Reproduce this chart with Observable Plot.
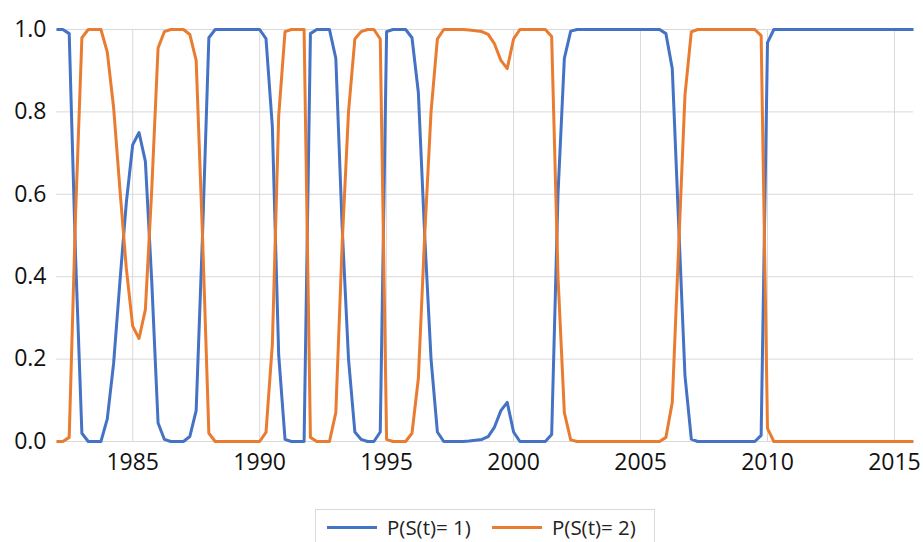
<!DOCTYPE html>
<html>
<head>
<meta charset="utf-8">
<script src="https://cdn.jsdelivr.net/npm/d3@7"></script>
<script src="https://cdn.jsdelivr.net/npm/@observablehq/plot@0.6"></script>
<style>
  html, body { margin: 0; padding: 0; background: #fff; }
  body { width: 923px; height: 542px; overflow: hidden; position: relative; font-family: "Open Sans", "Noto Sans", sans-serif; }
  #legend { position: absolute; left: 315px; top: 509px; width: 340px; height: 40px; border: 1px solid #d9d9d9; box-sizing: border-box; }
  .item { position: absolute; top: 4px; height: 26px; line-height: 26px; display: flex; align-items: center; font-size: 20.5px; color: #222; white-space: nowrap; }
  .swatch { width: 50px; height: 3px; margin-right: 10px; }
</style>
</head>
<body>
<div id="chart"></div>
<div id="legend"></div>
<script>
// Quarterly series starting 1982 Q1
const startYear = 1982;
const seriesNames = ["P(S(t)= 1)", "P(S(t)= 2)"];
const seriesColors = ["#4472C4", "#E97C30"];

const probState1 = [
  1, 1, 0.99, 0.45, 0.02, 0, 0, 0, 0.055, 0.19,
  0.39, 0.58, 0.72, 0.75, 0.68, 0.39, 0.045, 0.005, 0, 0,
  0, 0.012, 0.075, 0.5, 0.98, 1, 1, 1, 1, 1,
  1, 1, 1, 0.978, 0.765, 0.21, 0.005, 0, 0, 0,
  0.99, 1, 1, 1, 0.93, 0.52, 0.2, 0.023, 0.005, 0,
  0, 0.023, 0.995, 1, 1, 1, 0.98, 0.847, 0.5, 0.2,
  0.023, 0, 0, 0, 0, 0.001, 0.003, 0.005, 0.012, 0.035,
  0.075, 0.095, 0.023, 0, 0, 0, 0, 0, 0.017, 0.6,
  0.93, 0.996, 1, 1, 1, 1, 1, 1, 1, 1,
  1, 1, 1, 1, 1, 1, 0.99, 0.905, 0.53, 0.16,
  0.006, 0, 0, 0, 0, 0, 0, 0, 0, 0,
  0, 0.015, 0.968, 1, 1, 1, 1, 1, 1, 1,
  1, 1, 1, 1, 1, 1, 1, 1, 1, 1,
  1, 1, 1, 1, 1, 1
];

const probState2 = [
  0, 0, 0.01, 0.55, 0.98, 1, 1, 1, 0.945, 0.81,
  0.61, 0.42, 0.28, 0.25, 0.32, 0.61, 0.955, 0.995, 1, 1,
  1, 0.988, 0.925, 0.5, 0.02, 0, 0, 0, 0, 0,
  0, 0, 0, 0.022, 0.235, 0.79, 0.995, 1, 1, 1,
  0.01, 0, 0, 0, 0.07, 0.48, 0.8, 0.977, 0.995, 1,
  1, 0.977, 0.005, 0, 0, 0, 0.02, 0.153, 0.5, 0.8,
  0.977, 1, 1, 1, 1, 0.999, 0.997, 0.995, 0.988, 0.965,
  0.925, 0.905, 0.977, 1, 1, 1, 1, 1, 0.983, 0.4,
  0.07, 0.004, 0, 0, 0, 0, 0, 0, 0, 0,
  0, 0, 0, 0, 0, 0, 0.01, 0.095, 0.47, 0.84,
  0.994, 1, 1, 1, 1, 1, 1, 1, 1, 1,
  1, 0.985, 0.032, 0, 0, 0, 0, 0, 0, 0,
  0, 0, 0, 0, 0, 0, 0, 0, 0, 0,
  0, 0, 0, 0, 0, 0
];

const xTicks = [1985, 1990, 1995, 2000, 2005, 2010, 2015];
const yTicks = [0, 0.2, 0.4, 0.6, 0.8, 1.0];

const rows = [];
[probState1, probState2].forEach((arr, s) => {
  arr.forEach((v, i) => rows.push({ t: startYear + i / 4, p: v, series: seriesNames[s] }));
});

const lastT = startYear + (probState1.length - 1) / 4;

const chart = Plot.plot({
  width: 923,
  height: 505,
  marginLeft: 56,
  marginRight: 10,
  marginTop: 29,
  marginBottom: 64,
  style: { fontFamily: "'Open Sans', 'Noto Sans', sans-serif", fontSize: "23px", color: "#111", background: "#fff" },
  x: { domain: [startYear, lastT], ticks: xTicks, tickFormat: d => String(d), tickSize: 0, tickPadding: 12, label: null },
  y: { domain: [0, 1], ticks: yTicks, tickFormat: d => d.toFixed(1), tickSize: 0, tickPadding: 10, label: null },
  color: { domain: seriesNames, range: seriesColors },
  marks: [
    Plot.gridY(yTicks, { stroke: "#d9d9d9", strokeOpacity: 1, strokeWidth: 1 }),
    Plot.gridX(xTicks, { stroke: "#d9d9d9", strokeOpacity: 1, strokeWidth: 1 }),
    Plot.line(rows, { x: "t", y: "p", z: "series", stroke: "series", strokeWidth: 3, strokeLinejoin: "round", strokeLinecap: "butt" })
  ]
});
document.getElementById("chart").appendChild(chart);

const legend = document.getElementById("legend");
const lefts = [11, 176];
seriesNames.forEach((name, i) => {
  const item = document.createElement("div");
  item.className = "item";
  item.style.left = lefts[i] + "px";
  const sw = document.createElement("span");
  sw.className = "swatch";
  sw.style.background = seriesColors[i];
  const tx = document.createElement("span");
  tx.textContent = name;
  item.appendChild(sw);
  item.appendChild(tx);
  legend.appendChild(item);
});
</script>
</body>
</html>
